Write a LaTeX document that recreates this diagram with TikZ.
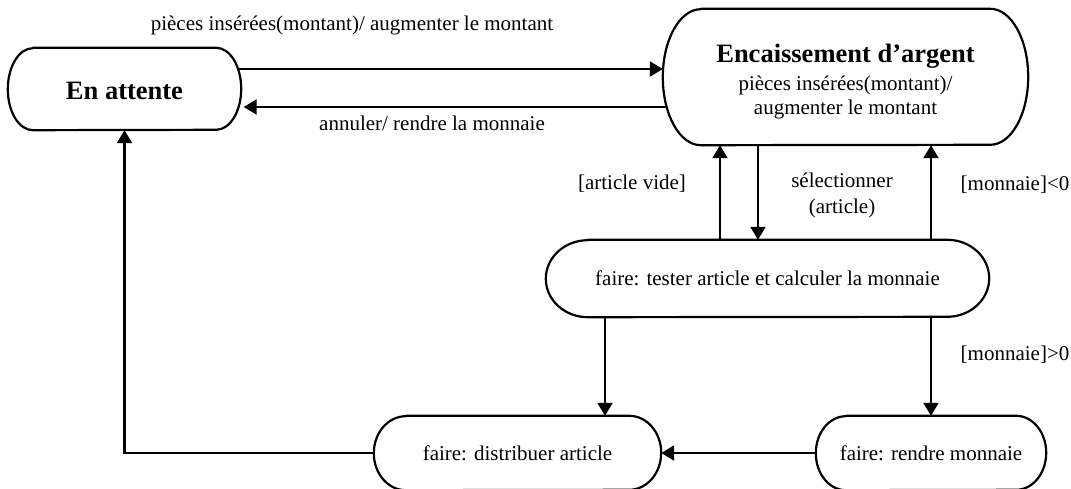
\documentclass[tikz,border=0pt]{standalone}
\usepackage{fontspec}
\setmainfont{Liberation Serif}
\usetikzlibrary{arrows.meta}

\tikzset{
  every node/.style={font=\fontsize{21pt}{24pt}\selectfont},
  state/.style={rectangle, inner sep=0pt, align=center},
  frameline/.style={line width=2.2pt, line join=round},
  flow/.style={line width=2.2pt, -{Triangle[length=13pt,width=15pt]}},
  edgelabel/.style={inner sep=0pt, align=center},
}
\newcommand\titlefont{\fontsize{26.5pt}{30pt}\selectfont\bfseries}
% outline of a state: straight top and bottom, half-ellipse ends
% #1 node name, #2 horizontal radius of the ends, #3 half height
\newcommand\stateframe[3]{%
  \draw[frameline] ([xshift=#2]#1.north west) -- ([xshift=-#2]#1.north east)
    arc[start angle=90, end angle=-90, x radius=#2, y radius=#3]
    -- ([xshift=#2]#1.south west)
    arc[start angle=270, end angle=90, x radius=#2, y radius=#3] -- cycle;}

\begin{document}
\begin{tikzpicture}[x=1pt,y=-1pt]
\useasboundingbox (0,0) rectangle (1071,489);

% states
\node[state, minimum width=233pt, minimum height=82pt] (att) at (124.5,89)
  {\titlefont\rule{0pt}{21pt}En attente};
\node[state, minimum width=365pt, minimum height=136pt] (enc) at (845.5,77)
  {{\titlefont\rule{0pt}{28pt}Encaissement d’argent}\\[4pt] pièces insérées(montant)/\\ augmenter le montant};
\node[state, minimum width=443pt, minimum height=77pt] (test) at (767.5,278.5)
  {faire: tester article et calculer la monnaie};
\node[state, minimum width=287pt, minimum height=74pt] (dist) at (517.5,453)
  {faire: distribuer article};
\node[state, minimum width=230pt, minimum height=74pt] (ren) at (931,453)
  {faire: rendre monnaie};

\stateframe{att}{25pt}{41pt}
\stateframe{enc}{38pt}{68pt}
\stateframe{test}{42pt}{38.5pt}
\stateframe{dist}{32pt}{37pt}
\stateframe{ren}{30pt}{37pt}

% columns of the vertical transitions
\coordinate (c1) at (720,0);
\coordinate (c2) at (758,0);
\coordinate (c3) at (931,0);
\coordinate (c4) at (605,0);

% transitions
\coordinate (a1) at ([shift={(-3,-20)}]att.east);
\draw[flow] (a1) -- (a1 -| enc.west);
\coordinate (a2) at ([shift={(4,30)}]enc.west);
\draw[flow, shorten >=2.5pt] (a2) -- (a2 -| att.east);
\draw[flow] (test.north -| c1) -- (enc.south -| c1);
\draw[flow] (enc.south -| c2) -- (test.north -| c2);
\draw[flow] (test.north -| c3) -- (enc.south -| c3);
\draw[flow] (test.south -| c4) -- (dist.north -| c4);
\draw[flow] (test.south -| c3) -- (ren.north -| c3);
\draw[flow] (ren.west) -- (dist.east);
\draw[flow] (dist.west) -| (att.south);

% transition labels
\node[edgelabel] (l1) at (352,25) {pièces insérées(montant)/ augmenter le montant};
\node[edgelabel] (l2) at (432,123.5) {annuler/ rendre la monnaie};
\node[edgelabel] (l3) at (632,184) {[article vide]};
\node[edgelabel] (l4) at (842,195) {sélectionner\\[2pt](article)};
\node[edgelabel] (l5) at (1015,185) {[monnaie]<0};
\node[edgelabel] (l6) at (1015,355) {[monnaie]>0};
\end{tikzpicture}
\end{document}
